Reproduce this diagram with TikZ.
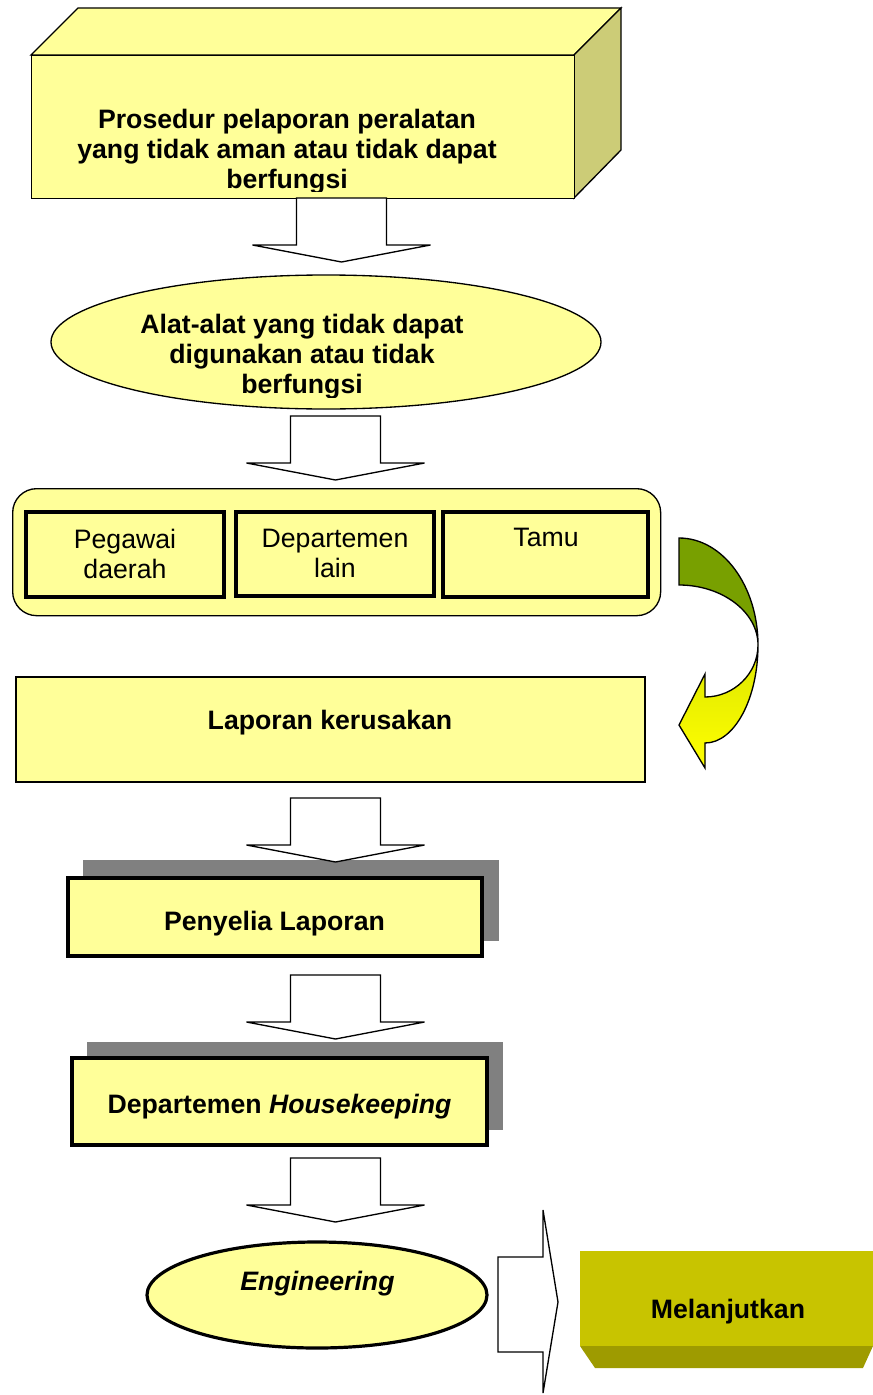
\documentclass[tikz,border=0pt]{standalone}
\usepackage{fontspec}
\setmainfont{Liberation Sans}
\usetikzlibrary{shapes.geometric}

\definecolor{paleyellow}{HTML}{FFFF99}
\definecolor{cubeside}{HTML}{CCCC77}
\definecolor{shadowgray}{HTML}{808080}
\definecolor{olivegreen}{HTML}{78A000}
\definecolor{brightyellow}{HTML}{FFFF00}
\definecolor{limeyellow}{HTML}{DCE600}
\definecolor{mustard}{HTML}{C8C400}
\definecolor{mustarddark}{HTML}{9E9B00}

\tikzset{
  thinline/.style={draw=black,line width=1pt,line join=miter},
  thinbox/.style={draw=black,line width=1pt,fill=paleyellow},
  thickbox/.style={draw=black,line width=2.4pt,fill=paleyellow},
  boldtxt/.style={font=\fontsize{20}{22.5}\selectfont\bfseries,align=center,inner sep=0pt},
  plaintxt/.style={font=\fontsize{20}{22.5}\selectfont,align=center,inner sep=0pt},
  blockarrow/.style={draw=black,line width=1pt,fill=white,line join=miter},
  downarrow/.pic={\path[blockarrow] (-45,0) -- (-45,47) -- (-89,47) -- (0,64)
                   -- (89,47) -- (45,47) -- (45,0) -- cycle;}
}

\begin{document}
\begin{tikzpicture}[x=0.75pt,y=-0.75pt]
\useasboundingbox (0,0) rectangle (873,1395);

% --- 3D header block ---
\path[thinbox] (31,55) -- (78,8) -- (621,8) -- (574,55) -- cycle;
\path[thinbox,fill=cubeside] (574,55) -- (621,8) -- (621,150) -- (574,198) -- cycle;
\node[thinbox,anchor=north west,minimum width=407.25pt,minimum height=107.25pt,inner sep=0pt] (cube) at (31,55) {};
\begin{scope}
  % the text frame ends just above the bottom edge
  \clip (31.5,55.5) rectangle (573.5,191);
  \node[boldtxt] (cubeText) at (287,152) {Prosedur pelaporan peralatan\\yang tidak aman atau tidak dapat\\berfungsi};
\end{scope}

% --- first ellipse ---
\node[ellipse,thinbox,minimum width=412.5pt,minimum height=100.5pt,inner sep=0pt] (tools) at (326,342) {};
\begin{scope}
  \clip (326,342) ellipse [x radius=274, y radius=66];
  \clip (40,270) rectangle (610,397);
  \node[boldtxt] (toolsText) at (302,357) {Alat-alat yang tidak dapat\\digunakan atau tidak\\berfungsi};
\end{scope}

% --- group of reporters ---
\node[thinbox,rounded corners=18pt,anchor=north west,minimum width=486pt,minimum height=95.25pt,inner sep=0pt] (sources) at (12,488) {};
\path[thickbox] (26,512) rectangle (224,597);
\path[thickbox] (236,512) rectangle (434,596);
\path[thickbox] (443,512) rectangle (648,597);
\node[plaintxt] (staff) at (125,553.5) {Pegawai\\daerah};
\node[plaintxt] (otherDept) at (335,553.5) {Departemen\\lain};
\node[plaintxt,anchor=base] (guest) at (546,546) {Tamu};

% --- curved arrow ---
\path[thinline,fill=olivegreen] (679,538) .. controls (722.6,538) and (758,585.9) .. (758,645)
  .. controls (758,611.9) and (722,585) .. (679,585) -- cycle;
\path[thinline,top color=limeyellow,bottom color=brightyellow] (758,645)
  .. controls (758,699) and (734.3,743) .. (705,743) -- (705,768) -- (679,725) -- (705,674) -- (705,697)
  .. controls (733.7,697) and (758,673.7) .. (758,645) -- cycle;

% --- damage report ---
\path[thinbox] (16,677) rectangle (645,782);
\node[boldtxt,anchor=base] (report) at (330,729) {Laporan kerusakan};

% --- supervisor ---
\fill[shadowgray] (83,860) rectangle (499,941);
\path[thickbox] (68,878) rectangle (482,956);
\node[boldtxt,anchor=base] (supervisor) at (274.5,930) {Penyelia Laporan};

% --- housekeeping ---
\fill[shadowgray] (87,1042) rectangle (503,1130);
\path[thickbox] (72,1058) rectangle (487,1145);
\node[boldtxt,anchor=base] (housekeeping) at (279.5,1113) {Departemen \textit{Housekeeping}};

% --- engineering ---
\node[ellipse,thickbox,minimum width=255pt,minimum height=79.5pt,inner sep=0pt] (eng) at (317,1295) {};
\node[boldtxt,anchor=base] (engText) at (317.5,1290) {\itshape Engineering};

% --- continue block ---
\fill[mustard] (580,1251) rectangle (873,1346);
\fill[mustarddark] (580,1346) -- (873,1346) -- (863,1368) -- (595,1368) -- cycle;
\node[boldtxt,anchor=base] (next) at (728,1318) {Melanjutkan};

% --- block arrows ---
\pic at (341.5,198) {downarrow};
\pic at (335.5,416) {downarrow};
\pic at (335.5,798) {downarrow};
\pic at (335.5,975) {downarrow};
\pic at (335.5,1158) {downarrow};
\path[blockarrow] (498,1257) -- (543,1257) -- (543,1210) -- (558,1302) -- (543,1393)
  -- (543,1352) -- (498,1352) -- cycle;
\end{tikzpicture}
\end{document}
